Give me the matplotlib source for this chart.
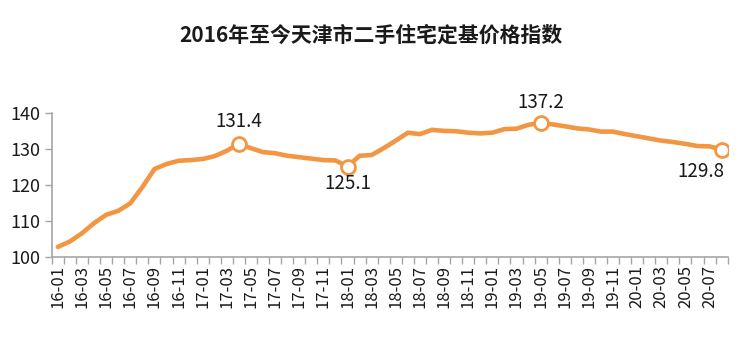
import numpy as np
import matplotlib.pyplot as plt

plt.rcParams['font.family'] = ['Noto Sans CJK SC', 'DejaVu Sans']

# 月份 16-01 ~ 20-08
months = [f'{y:02d}-{m:02d}' for y in range(16, 21) for m in range(1, 13)][:56]
index = [102.8, 104.3, 106.6, 109.4, 111.7, 112.8, 114.9, 119.4, 124.4, 125.8,
         126.7, 126.9, 127.2, 128.0, 129.5, 131.4, 130.2, 129.1, 128.8, 128.1,
         127.7, 127.3, 126.9, 126.8, 125.1, 128.1, 128.3, 130.2, 132.3, 134.5,
         134.1, 135.3, 135.0, 134.9, 134.5, 134.3, 134.5, 135.5, 135.6, 136.7,
         137.2, 136.8, 136.3, 135.7, 135.4, 134.8, 134.8, 134.1, 133.5, 132.9,
         132.3, 131.9, 131.4, 130.8, 130.7, 129.8]
# 标注点: (序号, 文字偏移)
marked = [(15, (0, 16)), (24, (0, -12)), (40, (0, 15)), (55, (-15, -16))]

orange = '#F39642'
grey = '#A6A6A6'

fig = plt.figure(figsize=(7.41, 3.39), dpi=100)
ax = fig.add_axes([0.070, 0.242, 0.912, 0.425])

x = np.arange(len(index))
ax.plot(x, index, color=orange, lw=3.3, solid_capstyle='round', solid_joinstyle='round', zorder=2)

for i, off in marked:
    ax.plot(x[i], index[i], 'o', ms=10, mfc='white', mec=orange, mew=2, zorder=3)
    ax.annotate(f'{index[i]:.1f}', (x[i], index[i]), xytext=off, textcoords='offset points',
                ha='center', va='center', fontsize=13.5, color='#1a1a1a')

ax.set_xlim(-0.5, len(index) - 0.5)
ax.set_ylim(100, 140)
ax.set_yticks([100, 110, 120, 130, 140])
ax.tick_params(axis='y', labelsize=13, length=5, color=grey, width=1, pad=3, labelcolor='#1a1a1a')

ax.set_xticks(x[::2])
ax.set_xticklabels(months[::2], rotation=90)
ax.set_xticks(np.arange(-0.5, len(index)), minor=True)
ax.tick_params(axis='x', which='major', length=0, labelsize=12, pad=6, labelcolor='#1a1a1a')
ax.tick_params(axis='x', which='minor', length=5, color=grey, width=1, direction='out')

for s in ['top', 'right']:
    ax.spines[s].set_visible(False)
for s in ['left', 'bottom']:
    ax.spines[s].set_color(grey)
    ax.spines[s].set_linewidth(1.2)

fig.text(0.5, 0.895, '2016年至今天津市二手住宅定基价格指数', ha='center', va='center',
         fontsize=15, fontweight='bold', color='#1a1a1a')

fig.savefig('out.png', dpi=100)
